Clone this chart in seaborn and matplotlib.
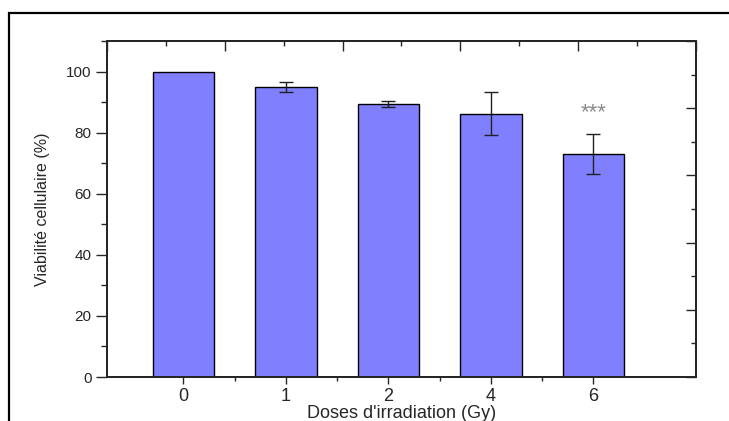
import matplotlib
matplotlib.use("Agg")
from matplotlib import pyplot as plt
from matplotlib.patches import Rectangle
from matplotlib.ticker import MultipleLocator, FixedLocator
import pandas as pd
import seaborn as sns

# data
doses = ['0', '1', '2', '4', '6']
viability = [100.0, 94.9, 89.3, 86.2, 73.0]
errors = [0.0, 1.6, 1.0, 7.0, 6.4]
signif = ['', '', '', '', '***']

df = pd.DataFrame({'dose': doses, 'viab': viability, 'err': errors})
df['pos'] = range(len(doses))

sns.set_style("ticks")
plt.rcParams['font.family'] = ['Liberation Sans', 'DejaVu Sans']

fig = plt.figure(figsize=(7.29, 4.21), dpi=100)
ax = fig.add_axes([0.1468, 0.1045, 0.8079, 0.7981])

sns.barplot(ax=ax, data=df, x='dose', y='viab', order=doses, color='#8080FF',
            saturation=1, width=0.6, edgecolor='black', linewidth=1.0, errorbar=None)
# only bars with a real spread get an error bar
eb = df[df['err'] > 0]
ax.errorbar(eb['pos'], eb['viab'], yerr=eb['err'], fmt='none',
            ecolor='#202020', elinewidth=1.0, capsize=5, capthick=1.0)

# significance stars
for i, s in enumerate(signif):
    if s:
        ax.text(i, df['viab'][i] + df['err'][i] + 5.4, s, ha='center', va='baseline',
                fontsize=16, color='#8a8a8a')

ax.set_xlim(-0.745, 5.0)
ax.set_ylim(0, 110)
ax.yaxis.set_major_locator(FixedLocator([0, 20, 40, 60, 80, 100]))
ax.yaxis.set_minor_locator(FixedLocator([10, 30, 50, 70, 90, 110]))
ax.xaxis.set_minor_locator(FixedLocator([0.5, 1.5, 2.5, 3.5]))

ax.set_xlabel("Doses d'irradiation (Gy)", fontsize=13, labelpad=0)
ax.set_ylabel("Viabilité cellulaire (%)", fontsize=11.5, labelpad=12)

ax.tick_params(axis='y', which='major', direction='out', length=8, width=1.0,
               labelsize=11, pad=3)
ax.tick_params(axis='y', which='minor', direction='out', length=4, width=1.0)
ax.tick_params(axis='x', which='major', direction='out', length=5, width=1.0,
               labelsize=13, pad=3)
ax.tick_params(axis='x', which='minor', direction='out', length=3, width=1.0)

for sp in ax.spines.values():
    sp.set_visible(True)
    sp.set_linewidth(1.3)

# top and right axes with their own inward ticks
top = ax.twiny()
top.set_xlim(0, 10)
top.xaxis.set_major_locator(MultipleLocator(2))
top.xaxis.set_minor_locator(MultipleLocator(1))
top.tick_params(axis='x', which='major', direction='in', length=7, width=1.0, labeltop=False)
top.tick_params(axis='x', which='minor', direction='in', length=3.5, width=1.0)

right = ax.twinx()
right.set_ylim(0, 10)
right.yaxis.set_major_locator(MultipleLocator(2))
right.yaxis.set_minor_locator(MultipleLocator(1))
right.tick_params(axis='y', which='major', direction='in', length=7, width=1.0, labelright=False)
right.tick_params(axis='y', which='minor', direction='in', length=3.5, width=1.0)

for a in (top, right):
    for sp in a.spines.values():
        sp.set_linewidth(1.3)

# outer frame of the figure
fig.patches.append(Rectangle((0.0123, -0.1), 1.1, 1.068, transform=fig.transFigure,
                             fill=False, edgecolor='black', linewidth=1.6, clip_on=False))

fig.savefig('out.png', dpi=100)
